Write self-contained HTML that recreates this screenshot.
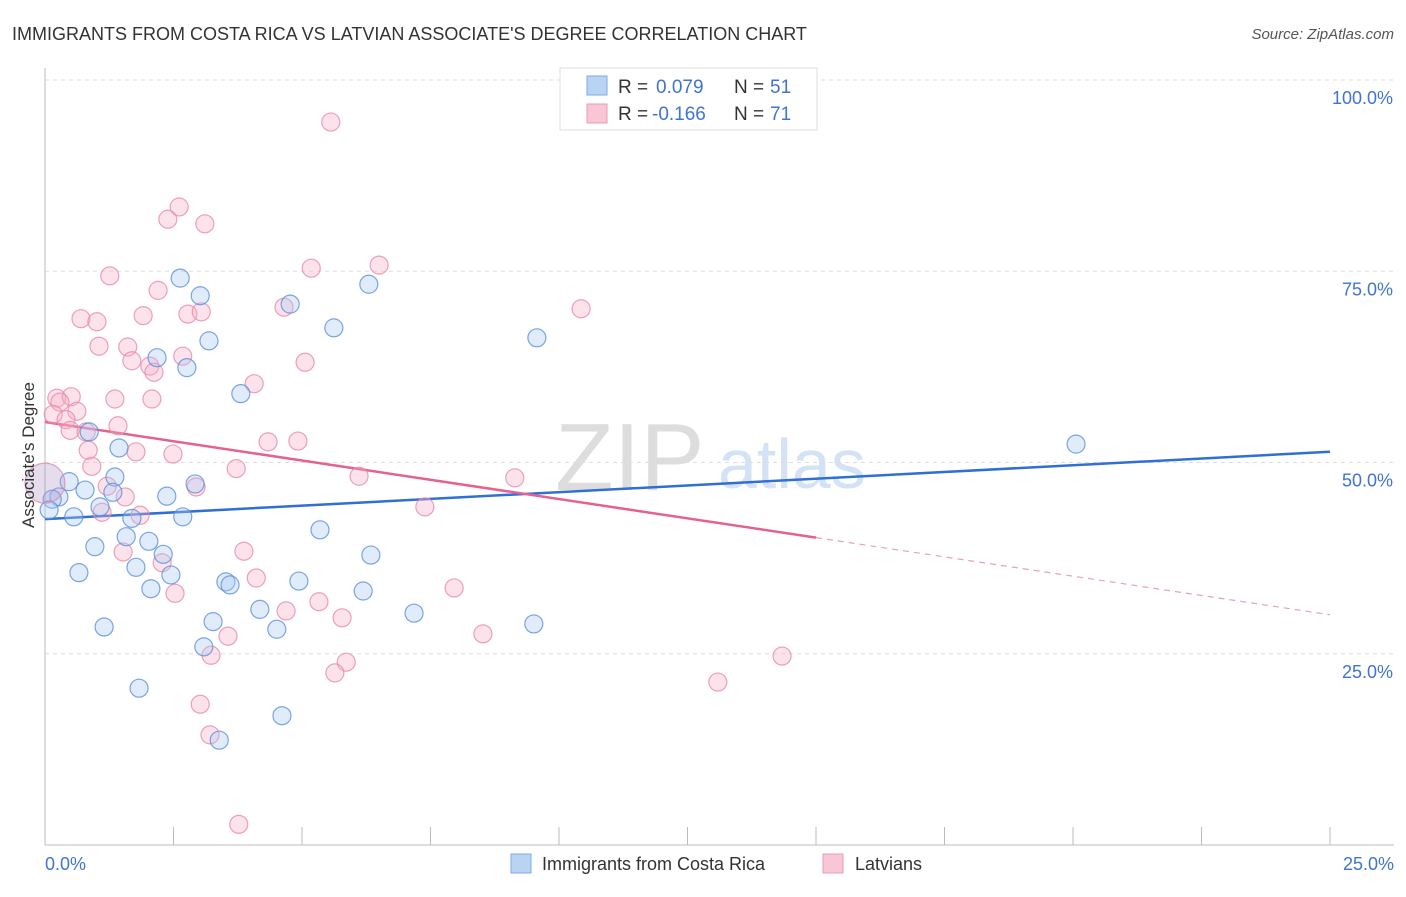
<!DOCTYPE html>
<html><head><meta charset="utf-8"><style>
body{margin:0;background:#fff;font-family:"Liberation Sans",sans-serif;}
svg text{font-family:"Liberation Sans",sans-serif;}
</style></head><body>
<svg id="c" width="1406" height="892" viewBox="0 0 1406 892" xmlns="http://www.w3.org/2000/svg">
<text x="12" y="40" font-size="18" fill="#333">IMMIGRANTS FROM COSTA RICA VS LATVIAN ASSOCIATE'S DEGREE CORRELATION CHART</text>
<text x="1394" y="39" font-size="15" fill="#555" font-style="italic" text-anchor="end">Source: ZipAtlas.com</text>
<g><text x="555" y="490" font-size="96" fill="#ddd" font-family="Liberation Serif,serif">ZIP</text><text x="718" y="488" font-size="70" fill="#d3e2f5">atlas</text></g>
<g id="grid"></g><g id="axes"></g><g id="trend"></g><g id="pts"></g>
<g>
<rect x="560" y="68" width="257" height="62" fill="#fff" stroke="#ddd"/>
<rect x="587" y="76" width="20" height="19" fill="#b9d3f3" stroke="#7fa8e0"/>
<text x="618" y="93" font-size="19" fill="#333">R =</text>
<text x="656" y="93" font-size="19" fill="#3f74d0">0.079</text>
<text x="734" y="93" font-size="19" fill="#333">N =</text>
<text x="770" y="93" font-size="19" fill="#3f74d0">51</text>
<rect x="587" y="104" width="20" height="19" fill="#f9c6d5" stroke="#eb9ab3"/>
<text x="618" y="120" font-size="19" fill="#333">R =</text>
<text x="652" y="120" font-size="19" fill="#3f74d0">-0.166</text>
<text x="734" y="120" font-size="19" fill="#333">N =</text>
<text x="770" y="120" font-size="19" fill="#3f74d0">71</text>
</g>
<g>
<rect x="511" y="854" width="20" height="19" fill="#b9d3f3" stroke="#7fa8e0"/>
<text x="542" y="870" font-size="18" fill="#333">Immigrants from Costa Rica</text>
<rect x="823" y="854" width="20" height="19" fill="#f9c6d5" stroke="#eb9ab3"/>
<text x="855" y="870" font-size="18" fill="#333">Latvians</text>
</g>
<text transform="translate(34,455) rotate(-90)" font-size="17" fill="#333" text-anchor="middle">Associate's Degree</text>
</svg>
<script>
const blueX=[2.63,3.02,4.77,6.30,5.62,9.57,3.19,2.18,2.76,3.81,0.86,1.44,20.06,1.36,0.47,2.92,0.78,0.27,0.14,1.32,2.37,1.07,1.69,0.56,2.68,0.08,5.35,1.58,2.02,0.97,2.30,6.34,1.77,0.66,2.45,3.52,3.60,4.94,2.06,6.19,4.18,7.18,3.27,1.15,4.51,9.51,3.09,1.83,4.61,3.39];
const blueY=[74.1,71.8,70.7,73.3,67.6,66.3,65.9,63.7,62.4,59.0,54.0,51.9,52.4,48.1,47.5,47.2,46.4,45.5,45.2,46.1,45.6,44.2,42.7,42.9,42.9,43.8,41.2,40.3,39.7,39.0,38.0,37.9,36.3,35.6,35.3,34.4,34.0,34.5,33.5,33.2,30.8,30.3,29.2,28.5,28.2,28.9,25.9,20.5,16.9,13.7];
const pinkX=[5.56,2.61,2.39,3.11,6.50,5.18,1.26,2.20,4.65,10.43,2.78,3.04,0.70,1.01,1.91,1.05,1.61,2.68,1.69,2.04,2.12,5.06,4.07,1.36,2.08,0.23,0.51,0.29,0.62,0.16,0.41,0.49,1.42,0.80,4.34,4.92,1.77,0.84,2.49,0.91,3.72,6.11,9.14,1.21,2.94,1.56,1.11,1.85,7.39,3.87,1.52,2.28,2.53,4.11,5.33,4.69,5.78,7.96,3.56,8.52,3.23,5.86,5.64,14.34,13.09,3.02,3.21,3.77,12.94];
const pinkY=[94.5,83.4,81.8,81.2,75.8,75.4,74.4,72.5,70.3,70.1,69.4,69.7,68.8,68.4,69.2,65.2,65.1,63.9,63.3,62.6,61.8,63.1,60.3,58.3,58.3,58.4,58.6,57.9,56.7,56.3,55.6,54.2,54.8,54.0,52.7,52.8,51.4,51.6,51.1,49.5,49.2,48.2,48.0,46.9,46.8,45.5,43.5,43.1,44.2,38.4,38.3,36.9,32.9,34.9,31.8,30.6,29.7,33.6,27.3,27.6,24.8,23.9,22.5,24.7,21.3,18.4,14.4,2.7,99.0];
const bigPoint=[0,47.3];
const blueTrend=[42.6,51.4];
const pinkTrend=[55.3,30.1];
const pinkSolidEnd=15;
const yTicks=[25,50,75,100];
const yTickLabels=["25.0%","50.0%","75.0%","100.0%"];
const xTickLabels=["0.0%","25.0%"];
const NS="http://www.w3.org/2000/svg";
const sx=v=>45+v/25*1285, sy=v=>845-v*7.65;
function mk(tag,attrs,parent){const e=document.createElementNS(NS,tag);for(const k in attrs)e.setAttribute(k,attrs[k]);document.getElementById(parent).appendChild(e);return e;}
yTicks.forEach((t,i)=>{
 const g=mk('line',{x1:45,x2:1394,y1:sy(t),y2:sy(t),stroke:'#ddd','stroke-dasharray':'4,4'},'grid');
 
 
 const tx=mk('text',{x:1393,y:sy(t)+24,'font-size':18,fill:'#3f74d0','text-anchor':'end'},'grid');
 tx.textContent=yTickLabels[i];
 
 
});
const ax=mk('line',{x1:45,x2:45,y1:68,y2:845,stroke:'#bbb'},'axes');


const bx=mk('line',{x1:45,x2:1394,y1:845,y2:845,stroke:'#bbb'},'axes');


for(let i=0;i<=10;i++){const t=mk('line',{x1:sx(i*2.5),x2:sx(i*2.5),y1:827,y2:845,stroke:'#bbb'},'axes');
 
 }
const l0=mk('text',{x:45,y:870,'font-size':18,fill:'#3f74d0'},'axes');l0.textContent=xTickLabels[0];


const l1=mk('text',{x:1394,y:870,'font-size':18,fill:'#3f74d0','text-anchor':'end'},'axes');l1.textContent=xTickLabels[1];


function pt(x,y,fill,stroke,r,name){const c=mk('circle',{cx:sx(x),cy:sy(y),r:r,fill:fill,'fill-opacity':0.35,stroke:stroke,'stroke-opacity':0.8,'stroke-width':1.2},'pts');
 
 }
pinkX.forEach((x,i)=>pt(x,pinkY[i],'#f5b0c5','#e88aa8',9,'latvian-point'));
blueX.forEach((x,i)=>pt(x,blueY[i],'#a9c8f0','#5a8fdc',9,'costa-rica-point'));
pt(bigPoint[0],bigPoint[1],'#b49ac8','#d890b0',20,'large-overlap-point');
const bt=mk('line',{x1:sx(0),y1:sy(blueTrend[0]),x2:sx(25),y2:sy(blueTrend[1]),stroke:'#2f6fd6','stroke-width':2.5},'trend');


const pe=pinkTrend[0]+(pinkTrend[1]-pinkTrend[0])*pinkSolidEnd/25;
const pt1=mk('line',{x1:sx(0),y1:sy(pinkTrend[0]),x2:sx(pinkSolidEnd),y2:sy(pe),stroke:'#e6628e','stroke-width':2.5},'trend');


const pt2=mk('line',{x1:sx(pinkSolidEnd),y1:sy(pe),x2:sx(25),y2:sy(pinkTrend[1]),stroke:'#e6a0b8','stroke-width':1.2,'stroke-dasharray':'6,5'},'trend');


</script>
</body></html>
